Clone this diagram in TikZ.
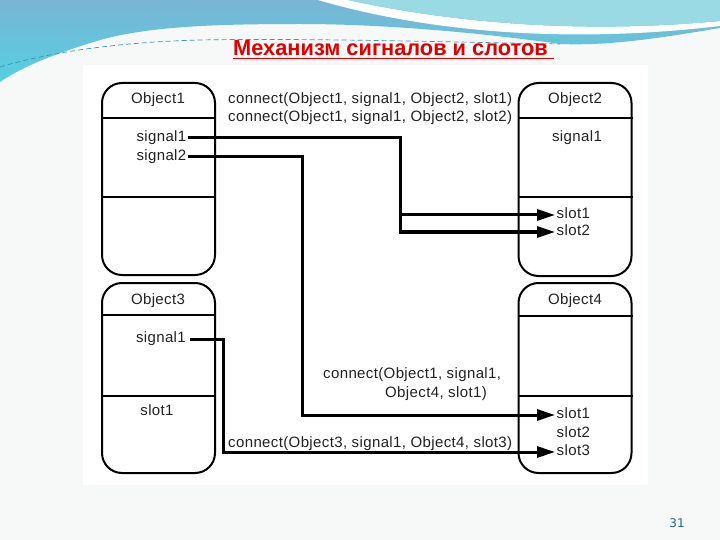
\documentclass[tikz,border=0pt]{standalone}
\usepackage{fontspec}
\setmainfont{Liberation Sans}
\newfontfamily\diagfont[LetterSpace=2.5]{Liberation Sans}
\newfontfamily\numfont{DejaVu Sans}
\usepackage{xcolor}
\usetikzlibrary{positioning, arrows.meta, calc}
\definecolor{pagebg}{HTML}{F7F8F8}
\definecolor{tealtop}{HTML}{79B5D4}
\definecolor{tealmid}{HTML}{80C2DA}
\definecolor{tealbot}{HTML}{55D0E2}
\definecolor{tealright}{HTML}{9ADAE4}
\definecolor{dashteal}{HTML}{3A98B0}
\definecolor{titlered}{HTML}{E00000}
\definecolor{textgray}{HTML}{222222}
\definecolor{pagenum}{HTML}{1E6A86}

\begin{document}
\begin{tikzpicture}[
        x=1pt, y=-1pt,
        >={Triangle[length=18pt, width=11pt]},
        objbox/.style={draw, line width=2pt, rounded corners=20pt, minimum width=113pt, inner sep=0pt},
        divider/.style={line width=2.6pt},
        member/.style={font=\diagfont\fontsize{15}{17}\selectfont, text=textgray, inner sep=1.5pt, text height=10.5pt, text depth=3pt},
        caption/.style={font=\diagfont\fontsize{15}{19.5}\selectfont, text=textgray, inner sep=0pt, anchor=west},
        wire/.style={line width=3pt}
    ]
        \useasboundingbox (0,0) rectangle (720,540);
        \fill[pagebg] (0,0) rectangle (720,540);

        \shade[top color=tealtop, middle color=tealmid, bottom color=tealbot] (0,0) -- (720,0) -- (720,28)
            .. controls (660,38) and (610,46) .. (560,44)
            .. controls (490,34) and (390,24) .. (300,24)
            .. controls (220,24) and (150,26) .. (100,40)
            .. controls (60,52) and (25,65) .. (0,82) -- cycle;
        \fill[white] (318,0) .. controls (420,30) and (560,45) .. (720,26) -- (720,21)
            .. controls (560,36) and (430,18) .. (348,0) -- cycle;
        \fill[tealright] (348,0) .. controls (430,18) and (560,36) .. (720,21) -- (720,0) -- cycle;
        \draw[dashteal, line width=0.7pt, dash pattern=on 5pt off 3pt]
            (0,67) .. controls (50,52) and (120,42) .. (200,40) .. controls (300,38) and (450,42) .. (560,44);

        \fill[white] (83,65) rectangle (648,485);

        \node[font=\bfseries\fontsize{21.8}{26}\selectfont, text=titlered, inner sep=0pt, anchor=base west] (title) at (233,56) {Механизм сигналов и слотов};
        \draw[titlered, line width=1.6pt] ([yshift=-2.5pt]title.base west) -- ([yshift=-2.5pt, xshift=6pt]title.base east);

        \node[objbox, minimum height=192pt] (obj1) at (158.5,179) {};
        \node[objbox, minimum height=193pt] (obj2) at (575,179.5) {};
        \node[objbox, minimum height=190pt] (obj3) at (158.5,378) {};
        \node[objbox, minimum height=190pt] (obj4) at (575,378) {};

        \draw[divider] (obj1.west |- 0,118) -- (obj1.east |- 0,118);
        \draw[divider] (obj1.west |- 0,197) -- (obj1.east |- 0,197);
        \draw[divider] (obj2.west |- 0,118) -- (obj2.east |- 0,118);
        \draw[divider] (obj2.west |- 0,197) -- (obj2.east |- 0,197);
        \draw[divider] (obj3.west |- 0,315) -- (obj3.east |- 0,315);
        \draw[divider] (obj3.west |- 0,396) -- (obj3.east |- 0,396);
        \draw[divider] (obj4.west |- 0,316) -- (obj4.east |- 0,316);
        \draw[divider] (obj4.west |- 0,396) -- (obj4.east |- 0,396);

        \node[member] (o1name) at (158,100) {Object1};
        \node[member, anchor=east] (o1sig1) at (188,138) {signal1};
        \node[member, anchor=east] (o1sig2) at (188,157) {signal2};

        \node[member] (o2name) at (575,100) {Object2};
        \node[member] (o2sig1) at (577,138) {signal1};
        \node[member, anchor=west] (o2slot1) at (555,215) {slot1};
        \node[member, anchor=west] (o2slot2) at (555,232) {slot2};

        \node[member] (o3name) at (158,301) {Object3};
        \node[member, anchor=east, inner sep=4pt] (o3sig1) at (190,339) {signal1};
        \node[member] (o3slot1) at (157,412) {slot1};

        \node[member] (o4name) at (575,301) {Object4};
        \node[member, anchor=west] (o4slot1) at (555,415) {slot1};
        \node[member, anchor=west] (o4slot2) at (555,434) {slot2};
        \node[member, anchor=west] (o4slot3) at (555,452) {slot3};

        \coordinate (busA) at (400,0);
        \coordinate (busB) at (302,0);
        \coordinate (busC) at (223,0);

        \draw[wire, ->] (o1sig1.east) -| (busA |- o2slot2.west) -- (o2slot2.west);
        \draw[wire, ->] (busA |- o2slot1.west) -- (o2slot1.west);
        \draw[wire, ->] (o1sig2.east) -| (busB |- o4slot1.west) -- (o4slot1.west);
        \draw[wire, ->] (o3sig1.east) -| (busC |- o4slot3.west) -- (o4slot3.west);

        \node[caption] (cap12a) at (228,100) {connect(Object1, signal1, Object2, slot1)};
        \node[caption] (cap12b) at (228,118) {connect(Object1, signal1, Object2, slot2)};
        \node[caption, align=left] (cap14) at (323,384) {connect(Object1, signal1,\\\hspace*{62pt}Object4, slot1)};
        \node[caption] (cap34) at (228,444) {connect(Object3, signal1, Object4, slot3)};

        \node[font=\numfont\fontsize{12}{14}\selectfont, text=pagenum] (pgnum) at (677,523) {31};
    \end{tikzpicture}
\end{document}
